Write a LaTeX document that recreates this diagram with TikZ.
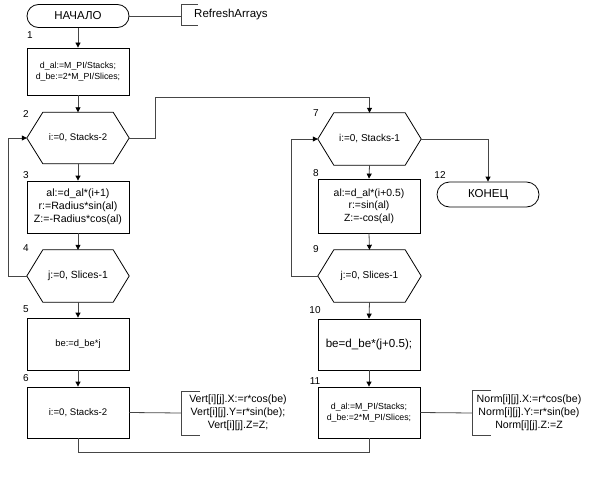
\documentclass[tikz,border=0pt]{standalone}
\usepackage{fontspec}
\setmainfont{Liberation Sans}
\usetikzlibrary{shapes.misc,arrows.meta}
\begin{document}
\begin{tikzpicture}[x=1pt,y=-1pt,
  blk/.style={draw=black, line width=0.8pt, inner sep=0pt, align=center, minimum width=102pt},
  procbox/.style={blk, rectangle},
  hexbox/.style={draw=none, inner sep=0pt, align=center, minimum width=102pt, minimum height=51pt},
  term/.style={blk, rounded rectangle, minimum height=23pt, font=\fontsize{11.5}{13}\selectfont},
  conn/.style={draw=gray!55!black, line width=0.8pt},
  arr/.style={conn, -{Triangle[length=5pt,width=5pt,color=black]}},
  brk/.style={draw=gray!55!black, line width=0.8pt},
  num/.style={inner sep=0pt, font=\fontsize{10}{12}\selectfont},
  cmt/.style={inner sep=0pt, align=center, font=\fontsize{10.6}{13}\selectfont},
  fs/.style={font={\pgfmathsetmacro\fsb{#1*1.22}\fontsize{#1}{\fsb}\selectfont}}
]
\useasboundingbox (0,0) rectangle (591,487);
\newcommand\hexdraw[1]{\draw[blk] (#1.west) -- ([xshift=16pt]#1.north west) -- ([xshift=-16pt]#1.north east) -- (#1.east) -- ([xshift=-16pt]#1.south east) -- ([xshift=16pt]#1.south west) -- cycle;}

% left column
\node[term] (start) at (78,16) {НАЧАЛО};
\node[procbox, minimum height=47pt, fs=8.8] (b1) at (78,71.5) {d\_al:=M\_PI/Stacks;\\d\_be:=2*M\_PI/Slices;};
\node[hexbox, fs=9.6] (h2) at (78,138) {i:=0, Stacks-2};
\hexdraw{h2}
\node[procbox, minimum height=52pt, fs=10.6] (b3) at (78,207) {al:=d\_al*(i+1)\\r:=Radius*sin(al)\\Z:=-Radius*cos(al)};
\node[hexbox, minimum height=52pt, fs=10.4] (h4) at (78,276) {j:=0, Slices-1};
\hexdraw{h4}
\node[procbox, minimum height=52pt, fs=9.4] (b5) at (78,344) {be:=d\_be*j};
\node[procbox, minimum height=51pt, fs=9.6] (b6) at (78,412.5) {i:=0, Stacks-2};

% right column
\node[hexbox, minimum width=103pt, minimum height=52pt, fs=10] (h7) at (369.5,139) {i:=0, Stacks-1};
\hexdraw{h7}
\node[procbox, minimum height=54pt, fs=10.4] (b8) at (369,206) {al:=d\_al*(i+0.5)\\r:=sin(al)\\Z:=-cos(al)};
\node[hexbox, minimum width=103pt, minimum height=52pt, fs=10] (h9) at (369.5,276) {j:=0, Slices-1};
\hexdraw{h9}
\node[procbox, minimum height=51pt, fs=11.6] (b10) at (369,344.5) {be=d\_be*(j+0.5);};
\node[procbox, minimum height=51pt, fs=8.8] (b11) at (369,412.5) {d\_al:=M\_PI/Stacks;\\d\_be:=2*M\_PI/Slices;};
\node[term, minimum width=102pt, minimum height=25pt] (end) at (488,194.5) {КОНЕЦ};

% numbers
\node[num] (n1) at (30,35) {1};
\node[num] (n2) at (26,114) {2};
\node[num] (n3) at (26,175) {3};
\node[num] (n4) at (26,248) {4};
\node[num] (n5) at (26,309) {5};
\node[num] (n6) at (26,378) {6};
\node[num] (n7) at (316,113) {7};
\node[num] (n8) at (316,173) {8};
\node[num] (n9) at (316,249) {9};
\node[num] (n10) at (315,310) {10};
\node[num] (n11) at (315,381) {11};
\node[num] (n12) at (440,175) {12};

% comments
\coordinate (br0) at (181,16);
\node[cmt, anchor=west, font=\fontsize{11.5}{13}\selectfont] (c0) at (194,15) {RefreshArrays};
\draw[conn] (start.east) -- (br0);
\draw[brk] (br0) ++(17,-12) -- ++(-17,0) -- ++(0,21) -- ++(17,0);

\coordinate (br6) at (181,413);
\node[cmt] (c6) at (238,413) {Vert[i][j].X:=r*cos(be)\\Vert[i][j].Y=r*sin(be);\\Vert[i][j].Z=Z;};
\draw[conn] (b6.east) -- (br6);
\draw[brk] (br6) ++(19,-22) -- ++(-19,0) -- ++(0,44) -- ++(19,0);

\coordinate (br11) at (472,413);
\node[cmt] (c11) at (529,413) {Norm[i][j].X:=r*cos(be)\\Norm[i][j].Y:=r*sin(be)\\Norm[i][j].Z:=Z};
\draw[conn] (b11.east) -- (br11);
\draw[brk] (br11) ++(19,-23) -- ++(-19,0) -- ++(0,45) -- ++(19,0);

% connectors
\draw[arr] (start.south) -- (b1.north);
\draw[arr] (b1.south) -- (h2.north);
\draw[arr] (h2.south) -- (b3.north);
\draw[arr] (b3.south) -- (h4.north);
\draw[arr] (h4.south) -- (b5.north);
\draw[arr] (b5.south) -- (b6.north);
\draw[arr] (h4.west) -- ++(-18,0) |- (h2.west);
\draw[arr] (h2.east) -- ++(26,0) -- ++(0,-41) -| (h7.north);
\draw[arr] (h7.south) -- (b8.north);
\draw[arr] (b8.south) -- (h9.north);
\draw[arr] (h9.south) -- (b10.north);
\draw[arr] (b10.south) -- (b11.north);
\draw[arr] (h9.west) -- ++(-26,0) |- (h7.west);
\draw[arr] (h7.east) -| (end.north);
\draw[conn] (b6.south) -- ++(0,14) -| (b11.south);
\end{tikzpicture}
\end{document}
